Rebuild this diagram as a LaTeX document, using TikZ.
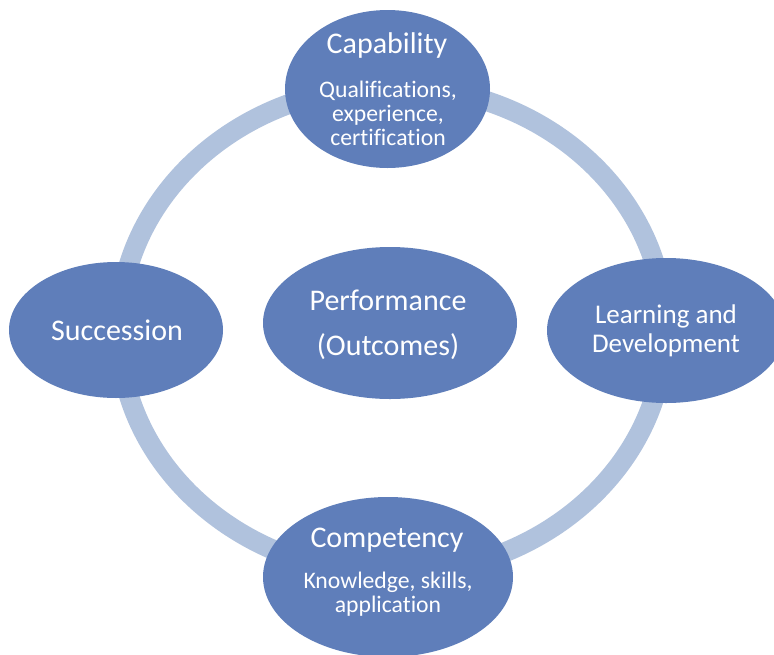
\documentclass[tikz,border=0pt]{standalone}
\usepackage{fontspec}
\setmainfont{Carlito}[Ligatures=CommonOff]
\usetikzlibrary{shapes.geometric}
\definecolor{blobfill}{HTML}{5F7EBA}
\definecolor{ringcol}{HTML}{B0C2DD}
\tikzset{
  blob/.style={ellipse, fill=blobfill, draw=none, inner sep=0pt},
  ringline/.style={draw=ringcol, line width=20pt},
  maintxt/.style={text=white, anchor=base, inner sep=0pt, font=\fontsize{30pt}{30pt}\selectfont},
  smalltxt/.style={text=white, anchor=base, inner sep=0pt, font=\fontsize{27pt}{27pt}\selectfont},
  subtxt/.style={text=white, anchor=base, inner sep=0pt, font=\fontsize{23.7pt}{23.7pt}\selectfont},
}
\begin{document}
\begin{tikzpicture}[x=1pt, y=-1pt]
\clip (0,0) rectangle (774,654);
\fill[white] (0,0) rectangle (774,654);
\coordinate (ringc) at (392,330);
\draw[ringline] (ringc) ellipse [x radius=273pt, y radius=244pt];
% ellipses
\node[blob, minimum width=205pt, minimum height=158pt] (cap) at (387.5,89) {};
\node[blob, minimum width=238pt, minimum height=145pt] (ld) at (666,330.5) {};
\node[blob, minimum width=214pt, minimum height=136pt] (succ) at (116,330) {};
\node[blob, minimum width=254pt, minimum height=152pt] (perf) at (390,323) {};
\node[blob, minimum width=250pt, minimum height=160pt] (comp) at (388,577) {};
% texts
\node[maintxt] (capT) at (387,53) {Capability};
\node[subtxt] (capS1) at (388,97) {Qualifications,};
\node[subtxt] (capS2) at (388,121) {experience,};
\node[subtxt] (capS3) at (388,145) {certification};
\node[smalltxt] (ldT1) at (666,323) {Learning and};
\node[smalltxt] (ldT2) at (666,352) {Development};
\node[maintxt] (succT) at (117,340) {Succession};
\node[maintxt] (perfT1) at (388,310) {Performance};
\node[maintxt] (perfT2) at (388,355) {(Outcomes)};
\node[maintxt] (compT) at (387,547) {Competency};
\node[subtxt] (compS1) at (388,588) {Knowledge, skills,};
\node[subtxt] (compS2) at (388,612) {application};
\end{tikzpicture}
\end{document}
